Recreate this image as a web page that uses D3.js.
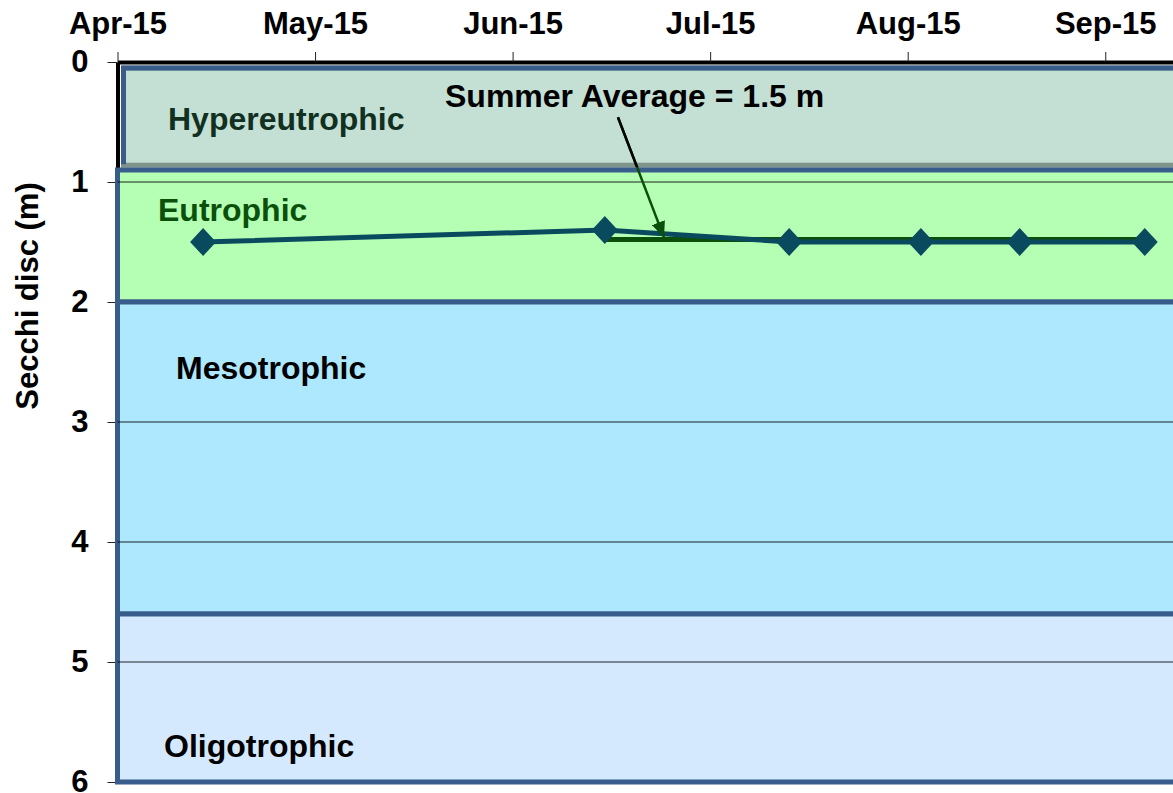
<!DOCTYPE html>
<html>
<head>
<meta charset="utf-8">
<script src="https://cdn.jsdelivr.net/npm/d3@7"></script>
<style>
  body { margin: 0; background: #fff; }
  text { font-family: "Liberation Sans", Arial, sans-serif; font-weight: bold; }
</style>
</head>
<body>
<script>
const width = 1173,
      height = 793;

// Secchi disc readings (m)
const sampleDates = ['2015-04-28', '2015-06-28', '2015-07-26', '2015-08-15', '2015-08-30', '2015-09-18'];
const secchi = [1.5, 1.4, 1.5, 1.5, 1.5, 1.5];
const summerFrom = 1; // samples from here on count as "summer"

// axis ticks
const monthTicks = ['2015-04-15', '2015-05-15', '2015-06-14', '2015-07-14', '2015-08-13', '2015-09-12'];
const depthTicks = [0, 1, 2, 3, 4, 5, 6];

// trophic bands (depth range in m)
const trophicNames = ['Hypereutrophic', 'Eutrophic', 'Mesotrophic', 'Oligotrophic'];
const trophicTop = [0, 0.9, 2.0, 4.6];
const trophicBottom = [0.86, 2.0, 4.6, 6.0];
const trophicFill = ['#c4e0d4', '#b4ffb4', '#ade8ff', '#d5e9fe'];
const trophicText = ['#12301f', '#0a500a', '#000', '#000'];

const parse = d3.utcParse('%Y-%m-%d'),
      fmt = d3.utcFormat('%b-%y');

const data = sampleDates.map((d, i) => ({ date: parse(d), depth: secchi[i] }));
const summer = data.slice(summerFrom);
const summerAvg = d3.mean(summer, d => d.depth);

const x = d3.scaleUtc()
    .domain([parse('2015-04-15'), parse('2015-09-23')])
    .range([117.5, 117.5 + 161 * 6.585]);
const y = d3.scaleLinear()
    .domain([0, 6])
    .range([62, 782]);

const svg = d3.select('body').append('svg')
    .attr('width', width)
    .attr('height', height);

// axes
const xAxis = svg.append('g')
    .attr('transform', `translate(0,${y(0)})`)
    .call(d3.axisTop(x)
      .tickValues(monthTicks.map(parse))
      .tickFormat(fmt)
      .tickSize(10)
      .tickSizeOuter(0)
      .tickPadding(18));

const yAxis = svg.append('g')
    .attr('transform', `translate(${x.range()[0]},0)`)
    .call(d3.axisLeft(y)
      .tickValues(depthTicks)
      .tickFormat(d3.format('d'))
      .tickSize(10)
      .tickSizeOuter(0)
      .tickPadding(19));

[xAxis, yAxis].forEach(a => {
  a.select('.domain').attr('stroke', '#000').attr('stroke-width', 4);
  a.selectAll('.tick line').attr('stroke', '#222').attr('stroke-width', 1);
  a.selectAll('.tick text').attr('font-size', 31).attr('fill', '#000');
});

svg.append('text')
    .attr('transform', 'translate(38,296) rotate(-90)')
    .attr('text-anchor', 'middle')
    .attr('font-size', 31)
    .text('Secchi disc (m)');

// trophic bands
const x0 = x.range()[0],
      x1 = x.range()[1] + 20;
const bands = svg.append('g');
trophicNames.forEach((name, i) => {
  const inset = i === 0 ? 6 : 0;
  bands.append('rect')
    .attr('x', x0 + inset)
    .attr('y', y(trophicTop[i]) + inset)
    .attr('width', x1 - x0 - inset)
    .attr('height', y(trophicBottom[i]) - y(trophicTop[i]) - inset)
    .attr('fill', trophicFill[i])
    .attr('stroke', i === 0 ? '#7f958b' : '#395d8a')
    .attr('stroke-width', 5);
});
// hypereutrophic box: blue left/top edge
bands.append('path')
    .attr('d', `M${x0 + 6},${y(trophicBottom[0]) - 1}V${y(0) + 6}H${x1}`)
    .attr('fill', 'none')
    .attr('stroke', '#395d8a')
    .attr('stroke-width', 5);

// gridlines
svg.append('g')
  .selectAll('line')
  .data(depthTicks.filter(d => d > 0 && d < 6 && d !== 2))
  .join('line')
    .attr('x1', x0)
    .attr('x2', x1)
    .attr('y1', d => y(d))
    .attr('y2', d => y(d))
    .attr('stroke', '#000')
    .attr('stroke-opacity', 0.85)
    .attr('stroke-width', 1);

// band labels
const labelAt = [[168, 0.566], [158, 1.325], [176, 2.64], [164, 5.79]];
svg.append('g')
  .selectAll('text')
  .data(trophicNames)
  .join('text')
    .attr('x', (d, i) => labelAt[i][0])
    .attr('y', (d, i) => y(labelAt[i][1]))
    .attr('font-size', 32)
    .attr('fill', (d, i) => trophicText[i])
    .text(d => d);

// summer average line
svg.append('line')
    .attr('x1', x(summer[0].date))
    .attr('x2', x(summer[summer.length - 1].date))
    .attr('y1', y(summerAvg))
    .attr('y2', y(summerAvg))
    .attr('stroke', '#0b4f0b')
    .attr('stroke-width', 5);

// secchi series
svg.append('path')
    .datum(data)
    .attr('fill', 'none')
    .attr('stroke', '#0a4a5e')
    .attr('stroke-width', 5)
    .attr('d', d3.line().x(d => x(d.date)).y(d => y(d.depth)));

svg.append('g')
  .selectAll('path')
  .data(data)
  .join('path')
    .attr('transform', d => `translate(${x(d.date)},${y(d.depth)})`)
    .attr('d', 'M0,-14L13,0L0,14L-13,0Z')
    .attr('fill', '#0a4a5e');

// annotation arrow
const defs = svg.append('defs');
defs.append('marker')
    .attr('id', 'head')
    .attr('markerUnits', 'userSpaceOnUse')
    .attr('viewBox', '0 0 16 14')
    .attr('markerWidth', 16)
    .attr('markerHeight', 14)
    .attr('refX', 16)
    .attr('refY', 7)
    .attr('orient', 'auto')
  .append('path')
    .attr('d', 'M0,0L16,7L0,14Z')
    .attr('fill', '#0b4f0b');
defs.append('clipPath')
    .attr('id', 'hyper')
  .append('rect')
    .attr('x', x0)
    .attr('y', y(0))
    .attr('width', x1 - x0)
    .attr('height', y(trophicBottom[0]) - y(0) + 2);

const tail = [x(parse('2015-06-30')), y(0.46)],
      tip = [x(parse('2015-07-07')), y(summerAvg) - 2];
svg.append('line')
    .attr('x1', tail[0]).attr('y1', tail[1])
    .attr('x2', tip[0]).attr('y2', tip[1])
    .attr('stroke', '#0b4f0b')
    .attr('stroke-width', 2.5)
    .attr('marker-end', 'url(#head)');
svg.append('line')
    .attr('x1', tail[0]).attr('y1', tail[1])
    .attr('x2', tip[0]).attr('y2', tip[1])
    .attr('stroke', '#000')
    .attr('stroke-width', 2.5)
    .attr('clip-path', 'url(#hyper)');

svg.append('text')
    .attr('x', 445)
    .attr('y', 107)
    .attr('font-size', 32)
    .attr('fill', '#000')
    .text(`Summer Average = ${d3.format('.1f')(summerAvg)} m`);
</script>
</body>
</html>
